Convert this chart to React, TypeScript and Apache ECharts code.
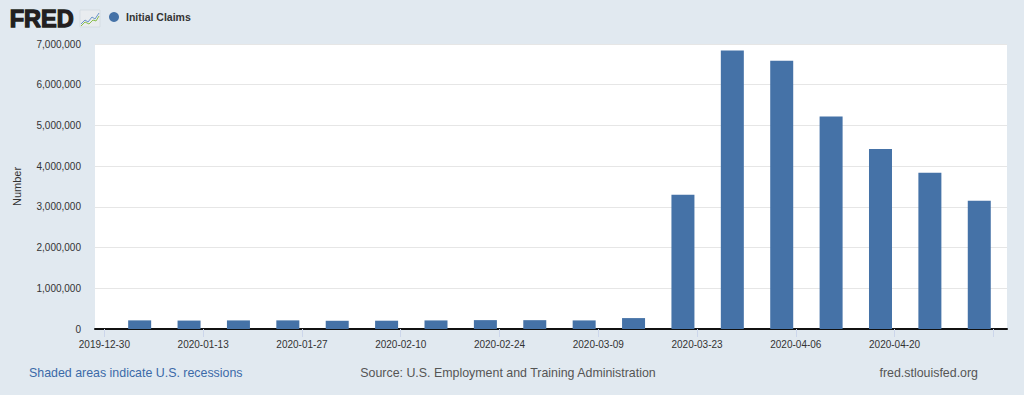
import React, { useEffect, useRef } from "react";
import * as echarts from "echarts";

const dates = [
  "2020-01-04", "2020-01-11", "2020-01-18", "2020-01-25", "2020-02-01", "2020-02-08",
  "2020-02-15", "2020-02-22", "2020-02-29", "2020-03-07", "2020-03-14", "2020-03-21",
  "2020-03-28", "2020-04-04", "2020-04-11", "2020-04-18", "2020-04-25", "2020-05-02",
];
const claims = [
  212000, 207000, 211000, 212000, 202000, 204000,
  211000, 218000, 217000, 211000, 268000, 3300000,
  6840000, 6590000, 5220000, 4420000, 3840000, 3150000,
];
const tickDates = [
  "2019-12-30", "2020-01-13", "2020-01-27", "2020-02-10", "2020-02-24",
  "2020-03-09", "2020-03-23", "2020-04-06", "2020-04-20", "2020-05-04",
];
const labelDates = tickDates.slice(0, 9);
const seriesName = "Initial Claims";

const DAY = 86400000;
const BASE = Date.UTC(2019, 11, 30);
const toDay = (d: string) => (Date.parse(d) - BASE) / DAY;
const fromDay = (v: number) => {
  const dt = new Date(BASE + Math.round(v) * DAY);
  return dt.toISOString().slice(0, 10);
};

const FONT = "'Liberation Sans', Arial, sans-serif";

export default function App() {
  const ref = useRef<HTMLDivElement>(null);
  useEffect(() => {
    document.body.style.margin = "0";
    if (!ref.current) return;
    const chart = echarts.init(ref.current, undefined, { renderer: "svg" });
    chart.setOption({
      animation: false,
      backgroundColor: "#e1e9f0",
      textStyle: { fontFamily: FONT },
      grid: {
        left: 95,
        right: 17,
        top: 44,
        bottom: 66,
        containLabel: false,
        outerBoundsMode: "none",
        show: true,
        backgroundColor: "#ffffff",
        borderWidth: 0,
      },
      xAxis: {
        type: "value",
        min: -1.33,
        max: 127.93,
        axisLine: { show: true, onZero: false, lineStyle: { color: "#111", width: 2 } },
        axisTick: {
          show: true,
          length: 8,
          lineStyle: { color: "#ccd6eb" },
          customValues: tickDates.map(toDay),
        },
        axisLabel: {
          show: true,
          color: "#333",
          fontSize: 10,
          fontFamily: FONT,
          margin: 10,
          customValues: labelDates.map(toDay),
          formatter: (v: number) => fromDay(v),
        },
        splitLine: { show: false },
      },
      yAxis: {
        type: "value",
        min: 0,
        max: 7000000,
        interval: 1000000,
        name: "Number",
        nameLocation: "middle",
        nameGap: 73,
        nameRotate: 90,
        nameTextStyle: { color: "#333", fontSize: 11, fontFamily: FONT },
        axisLine: { show: false },
        axisTick: { show: false },
        axisLabel: {
          color: "#333",
          fontSize: 10,
          fontFamily: FONT,
          margin: 14,
          formatter: (v: number) => v.toLocaleString("en-US"),
        },
        splitLine: { lineStyle: { color: "#e6e6e6", width: 1 } },
      },
      series: [
        {
          name: seriesName,
          type: "bar",
          barWidth: 23,
          itemStyle: { color: "#4572a7" },
          data: dates.map((d, i) => [toDay(d), claims[i]]),
        },
      ],
      graphic: [
        {
          type: "text",
          left: 9,
          top: 6,
          style: {
            text: "FRED",
            fontSize: 23.5,
            fontWeight: 900,
            fontFamily: FONT,
            fill: "#231f20",
            stroke: "#231f20",
            lineWidth: 1.3,
          },
        },
        {
          type: "group",
          x: 80,
          y: 10,
          children: [
            {
              type: "rect",
              shape: { x: 0, y: 0, width: 20, height: 17 },
              style: { fill: "#e9ecef", stroke: "#cfd6dc", lineWidth: 0.6 },
            },
            {
              type: "polyline",
              shape: { points: [[1, 14], [5, 10], [8, 12], [12, 7], [15, 9], [19, 3]] },
              style: { stroke: "#6b95c9", lineWidth: 1, fill: "none" },
            },
            {
              type: "polyline",
              shape: { points: [[1, 16], [5, 12], [9, 14], [13, 10], [16, 11], [19, 6]] },
              style: { stroke: "#8bbf4d", lineWidth: 1, fill: "none" },
            },
          ],
        },
        {
          type: "circle",
          shape: { cx: 114, cy: 17, r: 5 },
          style: { fill: "#4572a7" },
        },
        {
          type: "text",
          x: 126,
          y: 17,
          style: {
            text: seriesName,
            fontSize: 10.5,
            fontWeight: "bold",
            fontFamily: FONT,
            fill: "#333",
            verticalAlign: "middle",
          },
        },
        {
          type: "text",
          x: 29,
          y: 373,
          style: {
            text: "Shaded areas indicate U.S. recessions",
            fontSize: 12.4,
            fontFamily: FONT,
            fill: "#3b69a8",
            verticalAlign: "middle",
          },
        },
        {
          type: "text",
          x: 508,
          y: 373,
          style: {
            text: "Source: U.S. Employment and Training Administration",
            fontSize: 12.4,
            fontFamily: FONT,
            fill: "#555",
            align: "center",
            verticalAlign: "middle",
          },
        },
        {
          type: "text",
          x: 978,
          y: 373,
          style: {
            text: "fred.stlouisfed.org",
            fontSize: 12.4,
            fontFamily: FONT,
            fill: "#555",
            align: "right",
            verticalAlign: "middle",
          },
        },
      ],
    });
    return () => chart.dispose();
  }, []);
  return <div ref={ref} style={{ width: 1024, height: 395 }} />;
}
